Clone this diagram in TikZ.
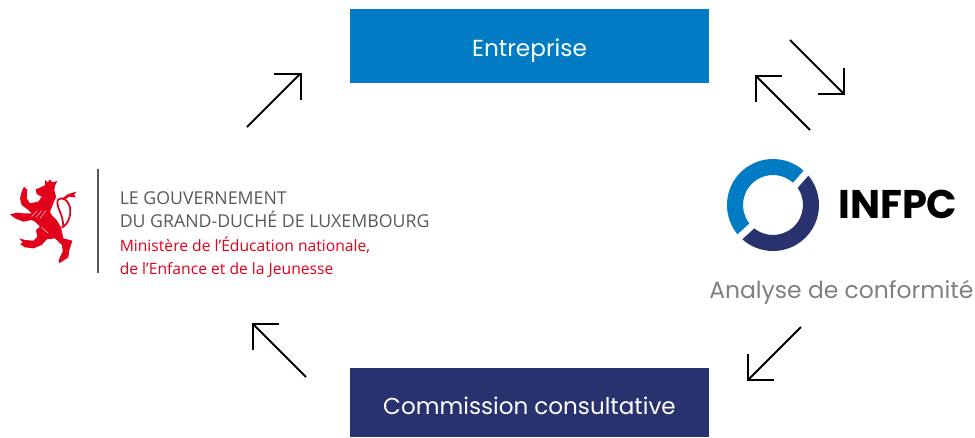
\documentclass[tikz,border=0pt]{standalone}
\usepackage{fontspec}
\setmainfont{Poppins}
\newfontfamily\logofont{Open Sans}
\usetikzlibrary{arrows.meta}
\definecolor{infblue}{HTML}{007BC4}
\definecolor{infnavy}{HTML}{27326F}
\definecolor{lionred}{HTML}{E2001A}
\definecolor{logogray}{HTML}{58595B}
\definecolor{anagray}{HTML}{7F7F7F}
\tikzset{
  bluebox/.style={fill=infblue,text=white,minimum width=269.25pt,minimum height=55.5pt,inner sep=0pt,text depth=0pt,font=\fontsize{17.4pt}{20pt}\selectfont},
  navybox/.style={fill=infnavy,text=white,minimum width=269.25pt,minimum height=51.75pt,inner sep=0pt,text depth=0pt,font=\fontsize{17.3pt}{20pt}\selectfont},
  flow/.style={draw=black,line width=1.5pt,-{Straight Barb[length=13.8pt,width=27.6pt,line width=1.5pt]}},
  govline/.style={anchor=base west,inner sep=0pt,text=logogray,font=\logofont\fontsize{13.3pt}{14pt}\selectfont},
  minline/.style={anchor=base west,inner sep=0pt,text=lionred,font=\logofont\fontsize{11.75pt}{14pt}\selectfont},
}
\begin{document}
\begin{tikzpicture}[x=0.75pt,y=-0.75pt]
\useasboundingbox (0,0) rectangle (975,437);
% boxes
\node[bluebox] (ent) at (529.5,46) {\raisebox{-2.4pt}{Entreprise}};
\node[navybox] (com) at (529.5,402.5) {\raisebox{-4.5pt}{Commission consultative}};
% government logo text
\draw[color=logogray,line width=1.5pt] (97.5,169) coordinate (ruleA) -- (97.5,273) coordinate (ruleB);
\node[govline] (g1) at (119.5,204) {LE GOUVERNEMENT};
\node[govline] (g2) at (119.5,227) {DU GRAND-DUCHÉ DE LUXEMBOURG};
\node[minline] (g3) at (119.5,251) {Ministère de l’Éducation nationale,};
\node[minline] (g4) at (119.5,274) {de l’Enfance et de la Jeunesse};
% lion
\begin{scope}[shift={(0,170)},x=0.25pt,y=-0.25pt]
\fill[lionred] (107,58) -- (122,52) -- (135,46) -- (135,30) -- (143,37) -- (150,28) -- (157,37) -- (172,33) -- (165,47)
 -- (163,60) -- (168,80) -- (160,100) -- (150,125) -- (155,135) -- (170,150) -- (183,172) -- (190,205)
 -- (217,212) -- (208,240) -- (205,262) -- (190,272) -- (178,280) -- (176,270) -- (188,245) -- (186,225)
 -- (165,205) -- (140,208) -- (125,225) -- (100,235) -- (75,232) -- (60,222) -- (68,218) -- (58,205)
 -- (75,210) -- (100,212) -- (112,200) -- (108,180) -- (120,170) -- (105,155) -- (95,150) -- (70,155)
 -- (45,145) -- (30,133) -- (50,128) -- (70,130) -- (95,130) -- (85,120) -- (65,105) -- (60,85)
 -- (65,65) -- (72,50) -- (82,60) -- (80,85) -- (90,100) -- (115,95) -- (125,80) -- (110,72) -- cycle;
\draw[lionred,line width=1.3pt,line cap=round] (186,172) .. controls (205,165) and (220,125) .. (205,100)
  .. controls (195,80) and (170,80) .. (172,100) .. controls (174,120) and (188,130) .. (190,170);
\fill[lionred] (188,84) -- (205,72) -- (230,65) -- (222,74) -- (228,82) -- (208,80) -- (192,90) -- cycle;
\draw[white,line width=0.3pt] (95,140) -- (112,122) (108,142) -- (125,122) (120,145) -- (138,122) (125,172) -- (145,190);
\end{scope}
% INFPC ring
\begin{scope}[shift={(773,205)},x=0.75pt,y=0.75pt]
\fill[infblue] (41:46) arc[start angle=41,end angle=226,radius=46] -- (226:30) arc[start angle=226,end angle=41,radius=30] -- cycle;
\fill[infnavy] (226:46) arc[start angle=226,end angle=401,radius=46] -- (41:30) arc[start angle=401,end angle=226,radius=30] -- cycle;
\draw[white,line width=5pt] (20,17) -- (40,40);
\draw[white,line width=5pt] (-18,-18) -- (-42,-40);
\end{scope}
\node[anchor=base west,inner sep=0pt,font=\bfseries\fontsize{30pt}{32pt}\selectfont] (inf) at (838,218) {INFPC};
\node[anchor=base west,inner sep=0pt,text=anagray,font=\fontsize{17.6pt}{20pt}\selectfont] (ana) at (709,298) {Analyse de conformité};
% arrows
\coordinate (a1s) at (247,127); \coordinate (a1e) at (301.5,72.5);
\coordinate (a2s) at (790,40); \coordinate (a2e) at (845,95);
\coordinate (a3s) at (810,130); \coordinate (a3e) at (755,75);
\coordinate (a4s) at (801,327); \coordinate (a4e) at (747,381);
\coordinate (a5s) at (306,377); \coordinate (a5e) at (251.5,322.5);
\draw[flow] (a1s) -- (a1e);
\draw[flow] (a2s) -- (a2e);
\draw[flow] (a3s) -- (a3e);
\draw[flow] (a4s) -- (a4e);
\draw[flow] (a5s) -- (a5e);
\end{tikzpicture}
\end{document}
